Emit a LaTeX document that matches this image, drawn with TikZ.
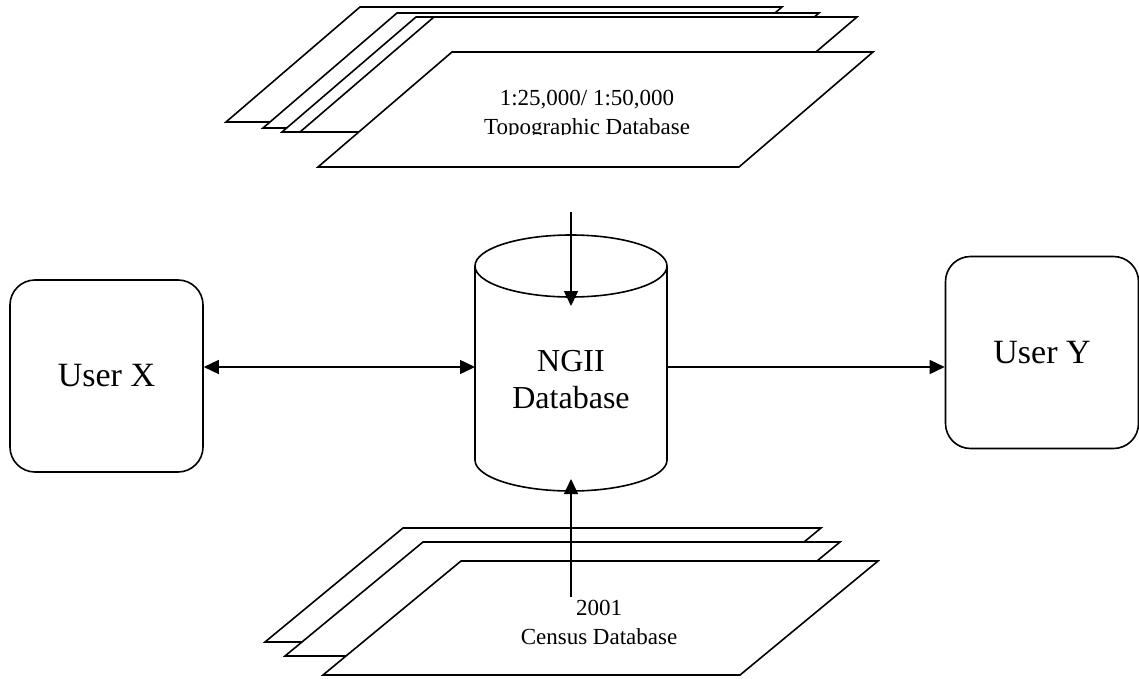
\documentclass[tikz,border=0pt]{standalone}
\usepackage{fontspec}
\setmainfont{Liberation Serif}
\usetikzlibrary{arrows.meta}
\begin{document}
\begin{tikzpicture}[x=1pt,y=-1pt,
  ln/.style={line width=1.6pt, line join=miter},
  sheet/.style={ln, draw=black, fill=white},
  userbox/.style={ln, draw=black, rounded corners=25pt, minimum width=193pt, minimum height=192pt, inner sep=0pt, font=\fontsize{34}{39}\selectfont},
  smalltxt/.style={align=center, font=\fontsize{23}{29}\selectfont, inner sep=0pt},
  conn/.style={line width=1.5pt, -{Triangle[length=15pt,width=14pt]}},
  conn2/.style={line width=1.5pt, {Triangle[length=15pt,width=14pt]}-{Triangle[length=15pt,width=14pt]}}]
\useasboundingbox (0,0) rectangle (1139,679);
% top sheets (back to front)
\draw[sheet] (360,7) -- (782,7) -- (648,122) -- (226,122) -- cycle;
\draw[sheet] (397,13) -- (819,13) -- (685,128) -- (263,128) -- cycle;
\draw[sheet] (416,17) -- (838,17) -- (704,132) -- (282,132) -- cycle;
\draw[sheet] (434,17) -- (857,17) -- (722,132) -- (300,132) -- cycle;
\draw[sheet] (452,52) -- (873,52) -- (739,167) -- (318,167) -- cycle;
\begin{scope}
  \clip (318,52) rectangle (873,135);
  \node[smalltxt] (topo) at (587,115) {1:25,000/ 1:50,000\\Topographic Database};
\end{scope}
% bottom sheets
\draw[sheet] (403,528) -- (821,528) -- (683,642) -- (265,642) -- cycle;
\draw[sheet] (423,542) -- (840,542) -- (702,656) -- (285,656) -- cycle;
\draw[sheet] (461,561) -- (878,561) -- (740,675) -- (323,675) -- cycle;
\node[smalltxt] (census) at (599,622) {2001\\Census Database};
% cylinder
\draw[ln, fill=white] (475,266) -- (475,460) arc[start angle=180, end angle=360, x radius=96pt, y radius=31pt] -- (667,266);
\draw[ln] (571,266) ellipse[x radius=96pt, y radius=31pt];
\node[align=center, font=\fontsize{32}{37}\selectfont, inner sep=0pt] (db) at (571,380) {NGII\\Database};
\coordinate (cw) at (475,367);
\coordinate (ce) at (667,367);
\coordinate (topin) at (571,212);
\coordinate (toptip) at (571,306);
\coordinate (botin) at (571,597);
\coordinate (bottip) at (571,479);
% users
\node[userbox] (ux) at (106.5,376) {\raisebox{-15pt}{User X}};
\node[userbox] (uy) at (1042,352.5) {\raisebox{-14.5pt}{User Y}};
% connectors
\draw[conn2] (ux.east |- cw) -- (cw);
\draw[conn] (ce) -- (uy.west |- ce);
\draw[conn] (topin) -- (toptip);
\draw[conn] (botin) -- (bottip);
\end{tikzpicture}
\end{document}
